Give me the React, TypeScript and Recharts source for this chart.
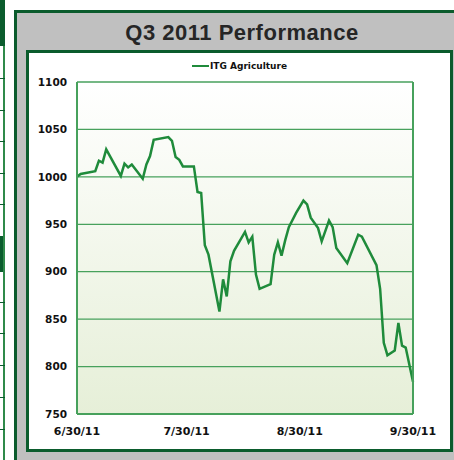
import { CartesianGrid, Line, LineChart, XAxis, YAxis } from "recharts";

// days counted from 6/30/11, index value
const days = [
  0, 1, 5, 6, 7, 8, 12, 13, 14, 15, 18, 19, 20, 21, 25, 26, 27, 28, 29, 32, 33, 34, 35, 36, 39, 40,
  41, 42, 43, 46, 47, 48, 49, 50, 53, 54, 55, 56, 57, 58, 60, 62, 63, 64, 66, 67, 69, 70, 71, 74,
  77, 78, 82, 83, 84, 85, 87, 88, 89, 90, 92
];
const agriculture = [
  1000, 1003, 1006, 1017, 1015, 1029, 1001, 1014, 1010, 1013, 998, 1013, 1022, 1039, 1042, 1038,
  1021, 1018, 1011, 1011, 984, 983, 928, 918, 858, 892, 874, 911, 922, 942, 931, 937, 897, 882,
  887, 918, 931, 917, 933, 947, 962, 975, 971, 957, 946, 932, 954, 947, 925, 909, 939, 937, 907,
  882, 825, 812, 817, 846, 822, 820, 784
];
const xTickDays = [0, 30, 61, 92];
const xTickLabels = ["6/30/11", "7/30/11", "8/30/11", "9/30/11"];
const yTicks = [750, 800, 850, 900, 950, 1000, 1050, 1100];

const seriesName = "ITG Agriculture";
const title = "Q3 2011 Performance";

const data = days.map((day, i) => ({ day, value: agriculture[i] }));

const DARK = "#0b5c2d";
const LINE = "#1f8b3b";
const GRID = "#47a15c";
const tickFont = { fill: "#111", fontSize: 10.5, fontWeight: 700, fontFamily: "DejaVu Sans, Verdana, sans-serif" };

function LeftStrip() {
  const rules = [78, 110, 141, 173, 204, 302, 333, 365, 397, 429];
  return (
    <>
      <div style={{ position: "absolute", left: 0, top: 0, width: 5, height: 46, background: DARK }} />
      <div style={{ position: "absolute", left: 0, top: 236, width: 5, height: 36, background: DARK }} />
      <div style={{ position: "absolute", left: 3, top: 46, width: 2, height: 414, background: "#2f8a4a" }} />
      {rules.map((y) => (
        <div key={y} style={{ position: "absolute", left: 0, top: y, width: 5, height: 1, background: DARK }} />
      ))}
    </>
  );
}

export default function App() {
  return (
    <div style={{ position: "absolute", left: 0, top: 0, width: 454, height: 460, overflow: "hidden", background: "#fff" }}>
      <LeftStrip />
      <div
        style={{
          position: "absolute",
          left: 14,
          top: 10,
          width: 460,
          height: 470,
          background: "#c0c0c0",
          border: `3px solid ${DARK}`,
          boxSizing: "border-box"
        }}
      />
      <div
        style={{
          position: "absolute",
          left: 0,
          top: 20,
          width: 484,
          textAlign: "center",
          fontFamily: "Liberation Sans, Arial, sans-serif",
          fontWeight: 700,
          fontSize: 22,
          letterSpacing: 0.5,
          color: "#262626",
          lineHeight: "26px"
        }}
      >
        {title}
      </div>
      <div
        style={{
          position: "absolute",
          left: 26,
          top: 50,
          width: 427,
          height: 402,
          background: "#fff",
          border: `3px solid ${DARK}`,
          boxSizing: "border-box"
        }}
      />
      <div
        style={{
          position: "absolute",
          left: 192,
          top: 60,
          display: "flex",
          alignItems: "center",
          fontFamily: "DejaVu Sans, Verdana, sans-serif",
          fontWeight: 700,
          fontSize: 9,
          color: "#111",
          lineHeight: "12px"
        }}
      >
        <span style={{ display: "inline-block", width: 17, height: 2, background: LINE, marginRight: 1 }} />
        {seriesName}
      </div>
      <div style={{ position: "absolute", left: 0, top: 0 }}>
        <LineChart width={454} height={460} data={data} margin={{ top: 82, right: 40, left: 37, bottom: 16 }}>
          <defs>
            <linearGradient id="plotFill" x1="0" x2="0" y1="0" y2="1">
              <stop offset="0%" stopColor="#ffffff" />
              <stop offset="100%" stopColor="#e6efd8" />
            </linearGradient>
          </defs>
          <CartesianGrid
            yAxisId="left"
            vertical={false}
            fill="url(#plotFill)"
            fillOpacity={1}
            stroke={GRID}
            strokeWidth={1.3}
          />
          <XAxis
            type="number"
            dataKey="day"
            domain={[0, 92]}
            ticks={xTickDays}
            tickFormatter={(d: number) => xTickLabels[xTickDays.indexOf(d)]}
            tickLine={false}
            tickMargin={7}
            axisLine={{ stroke: GRID, strokeWidth: 2 }}
            tick={{ ...tickFont, fontSize: 11 }}
            height={30}
          />
          <YAxis
            yAxisId="left"
            domain={[750, 1100]}
            ticks={yTicks}
            tickLine={false}
            tickMargin={4}
            axisLine={{ stroke: GRID, strokeWidth: 2 }}
            tick={tickFont}
            width={40}
          />
          <YAxis yAxisId="right" orientation="right" domain={[750, 1100]} tick={false} tickLine={false} axisLine={{ stroke: GRID, strokeWidth: 2 }} width={1} />
          <Line
            yAxisId="left"
            type="linear"
            dataKey="value"
            name={seriesName}
            stroke={LINE}
            strokeWidth={2.5}
            dot={false}
            isAnimationActive={false}
          />
        </LineChart>
      </div>
    </div>
  );
}
